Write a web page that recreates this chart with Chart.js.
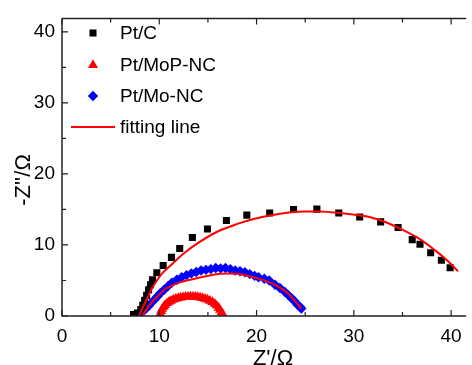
<!DOCTYPE html>
<html>
<head>
<meta charset="utf-8">
<script src="https://cdn.jsdelivr.net/npm/chart.js@4.4.1/dist/chart.umd.min.js"></script>
<style>
  html, body { margin: 0; padding: 0; background: #fff; }
  #wrap { width: 472px; height: 365px; }
</style>
</head>
<body>
<div id="wrap"><canvas id="nyquist" width="472" height="365"></canvas></div>
<script>
// Nyquist data, [Z', -Z''] in ohm
const ptC = [
  [7.35, 0.2], [7.75, 0.4], [8.1, 0.9], [8.3, 1.5], [8.5, 2.2], [8.7, 2.9], [8.9, 3.7],
  [9.1, 4.4], [9.3, 5.1], [9.75, 6.1], [10.4, 7.1], [11.25, 8.25], [12.1, 9.5],
  [13.4, 11.05], [14.95, 12.25], [16.9, 13.45], [19.0, 14.2], [21.35, 14.5], [23.8, 15.0],
  [26.2, 15.05], [28.45, 14.5], [30.6, 13.95], [32.75, 13.25], [34.55, 12.45], [36.0, 10.75],
  [36.8, 10.1], [37.9, 8.9], [39.0, 7.85], [39.9, 6.8]
];
const ptMoPNC = [
  [10.1, 0.3], [10.2, 0.7], [10.3, 1.0], [10.45, 1.3], [10.6, 1.55], [10.8, 1.8], [11.0, 2.0],
  [11.2, 2.15], [11.45, 2.3], [11.7, 2.42], [11.95, 2.52], [12.2, 2.6], [12.45, 2.65],
  [12.7, 2.7], [12.95, 2.72], [13.2, 2.73], [13.45, 2.72], [13.7, 2.7], [13.95, 2.66],
  [14.2, 2.6], [14.45, 2.52], [14.7, 2.42], [14.95, 2.3], [15.2, 2.15], [15.45, 1.95],
  [15.7, 1.72], [15.9, 1.45], [16.1, 1.15], [16.25, 0.85], [16.4, 0.5], [16.55, 0.2]
];
const ptMoNC = [
  [8.0, 0.2], [8.3, 0.6], [8.6, 1.0], [8.9, 1.4], [9.2, 1.85], [9.5, 2.3], [9.8, 2.75],
  [10.1, 3.2], [10.5, 3.7], [10.9, 4.2], [11.3, 4.7], [11.8, 5.1], [12.3, 5.45], [12.8, 5.75],
  [13.3, 6.0], [13.8, 6.2], [14.3, 6.4], [14.8, 6.5], [15.3, 6.6], [15.8, 6.75], [16.3, 6.7],
  [16.8, 6.75], [17.3, 6.6], [17.8, 6.4], [18.3, 6.3], [18.8, 6.15], [19.3, 5.9], [19.8, 5.65],
  [20.2, 5.45], [20.8, 5.25], [21.3, 5.0], [21.9, 4.4], [22.4, 3.95], [22.9, 3.4],
  [23.3, 2.9], [23.6, 2.5], [23.9, 2.1], [24.2, 1.6], [24.45, 1.3], [24.6, 1.05]
];
const fitPtC = [
  [7.9, 0], [8.3, 1.2], [8.8, 2.6], [9.25, 3.9], [9.8, 5.1], [10.3, 6.0], [11.3, 7.3],
  [12.6, 8.9], [14.0, 10.3], [16.0, 11.9], [18.1, 13.0], [19.8, 13.7], [21.5, 14.2],
  [23.1, 14.55], [24.8, 14.7], [26.5, 14.7], [28.2, 14.55], [29.9, 14.3], [31.6, 13.95],
  [33.3, 13.2], [35.0, 12.15], [36.7, 10.9], [38.4, 9.2], [39.6, 7.8], [40.7, 6.3]
];
const fitMoPNC = [
  [10.2, 0], [10.4, 1.0], [10.9, 1.75], [11.6, 2.25], [12.5, 2.55], [13.4, 2.62],
  [14.3, 2.5], [15.1, 2.15], [15.7, 1.6], [16.2, 0.9], [16.5, 0]
];
const fitMoNC = [
  [8.3, 0], [8.7, 1.0], [9.3, 2.0], [10.0, 3.0], [10.6, 3.8], [11.4, 4.35], [12.3, 4.8],
  [13.3, 5.15], [14.3, 5.47], [15.3, 5.75], [16.3, 5.94], [17.2, 6.0], [18.0, 5.95],
  [19.0, 5.7], [19.7, 5.45], [20.7, 5.05], [21.75, 4.5], [22.5, 3.9], [23.1, 3.35],
  [23.7, 2.5], [24.2, 1.7], [24.6, 1.05]
];
const tickValues = [0, 5, 10, 15, 20, 25, 30, 35, 40];
const legendLabels = ['Pt/C', 'Pt/MoP-NC', 'Pt/Mo-NC', 'fitting line'];
const xTitle = "Z'/\u03A9";
const yTitle = "-Z''/\u03A9";

const FONT = '"Liberation Sans", Arial, sans-serif';
const AXIS = '#222';

function pts(arr) {
  return arr.map(p => ({ x: p[0], y: p[1] }));
}

function markerSet(label, data, color, style, radius) {
  return {
    label: label,
    data: pts(data),
    showLine: false,
    pointStyle: style,
    pointRadius: radius,
    pointBackgroundColor: color,
    pointBorderColor: color,
    pointBorderWidth: 0,
    order: 1
  };
}

function fitSet(data) {
  return {
    label: 'fitting line',
    data: pts(data),
    showLine: true,
    borderColor: '#ff0000',
    borderWidth: 2,
    pointRadius: 0,
    tension: 0.35,
    order: 0
  };
}

// marker shapes for the legend, same look as in the plot
function drawMarker(ctx, style, x, y, r, color) {
  ctx.fillStyle = color;
  ctx.beginPath();
  if (style === 'rect') {
    const s = r * Math.SQRT1_2;
    ctx.rect(x - s, y - s, 2 * s, 2 * s);
  } else if (style === 'triangle') {
    ctx.moveTo(x, y - r);
    ctx.lineTo(x + r * 0.866, y + r * 0.5);
    ctx.lineTo(x - r * 0.866, y + r * 0.5);
    ctx.closePath();
  } else {
    ctx.moveTo(x, y - r);
    ctx.lineTo(x + r, y);
    ctx.lineTo(x, y + r);
    ctx.lineTo(x - r, y);
    ctx.closePath();
  }
  ctx.fill();
}

const framePlugin = {
  id: 'frame',
  afterDatasetsDraw(chart) {
    const ctx = chart.ctx;
    const a = chart.chartArea;
    const xs = chart.scales.x, ys = chart.scales.y;
    ctx.save();
    ctx.strokeStyle = AXIS;
    ctx.lineWidth = 1.5;
    ctx.beginPath();
    ctx.moveTo(a.left, a.top);
    ctx.lineTo(a.right, a.top);
    ctx.moveTo(a.left, a.top);
    ctx.lineTo(a.left, a.bottom);
    ctx.lineTo(a.right, a.bottom);
    ctx.stroke();

    // inward ticks
    ctx.lineWidth = 1.2;
    ctx.beginPath();
    tickValues.forEach(v => {
      const len = v % 10 === 0 ? 6 : 4;
      const px = xs.getPixelForValue(v);
      ctx.moveTo(px, a.bottom); ctx.lineTo(px, a.bottom - len);
      ctx.moveTo(px, a.top); ctx.lineTo(px, a.top + len);
      const py = ys.getPixelForValue(v);
      ctx.moveTo(a.left, py); ctx.lineTo(a.left + len, py);
    });
    ctx.stroke();

    // axis titles
    ctx.fillStyle = '#000';
    ctx.font = '22px ' + FONT;
    ctx.textAlign = 'center';
    ctx.textBaseline = 'alphabetic';
    ctx.fillText(xTitle, 273, 365);
    ctx.save();
    ctx.translate(30, 180);
    ctx.rotate(-Math.PI / 2);
    ctx.fillText(yTitle, 0, 0);
    ctx.restore();

    // legend
    const rows = [33, 65, 96, 127];
    const sets = chart.data.datasets;
    ctx.font = '19px ' + FONT;
    ctx.textAlign = 'left';
    ctx.textBaseline = 'middle';
    for (let i = 0; i < 3; i++) {
      const ds = sets[i];
      drawMarker(ctx, ds.pointStyle, 93, rows[i], ds.pointRadius, ds.pointBackgroundColor);
      ctx.fillStyle = '#000';
      ctx.fillText(legendLabels[i], 120, rows[i] + 1);
    }
    ctx.strokeStyle = '#ff0000';
    ctx.lineWidth = 2;
    ctx.beginPath();
    ctx.moveTo(71, rows[3]);
    ctx.lineTo(115, rows[3]);
    ctx.stroke();
    ctx.fillStyle = '#000';
    ctx.fillText(legendLabels[3], 120, rows[3] + 1);
    ctx.restore();
  }
};

function onlyTickValues(scale) {
  scale.ticks = tickValues.map(v => ({ value: v }));
}

new Chart(document.getElementById('nyquist').getContext('2d'), {
  type: 'scatter',
  data: {
    datasets: [
      markerSet(legendLabels[0], ptC, '#000000', 'rect', 5),
      markerSet(legendLabels[1], ptMoPNC, '#ff0000', 'triangle', 5.8),
      markerSet(legendLabels[2], ptMoNC, '#0000ff', 'rectRot', 5.2),
      fitSet(fitPtC),
      fitSet(fitMoPNC),
      fitSet(fitMoNC)
    ]
  },
  options: {
    responsive: false,
    animation: false,
    layout: { padding: { top: 13, right: 0, left: 0, bottom: 0 } },
    plugins: {
      legend: { display: false },
      tooltip: { enabled: false }
    },
    scales: {
      x: {
        type: 'linear',
        min: 0,
        max: 41.55,
        afterBuildTicks: onlyTickValues,
        afterFit: s => { s.height = 49; },
        grid: { display: false, drawTicks: false },
        border: { display: false },
        ticks: {
          padding: 9,
          color: '#000',
          font: { family: FONT, size: 19 },
          maxRotation: 0,
          autoSkip: false,
          callback: v => (v % 10 === 0 ? v : '')
        }
      },
      y: {
        type: 'linear',
        min: 0,
        max: 41.9,
        afterBuildTicks: onlyTickValues,
        afterFit: s => { s.width = 62; },
        grid: { display: false, drawTicks: false },
        border: { display: false },
        ticks: {
          padding: 7,
          color: '#000',
          font: { family: FONT, size: 19 },
          autoSkip: false,
          callback: v => (v % 10 === 0 ? v : '')
        }
      }
    }
  },
  plugins: [framePlugin]
});
</script>
</body>
</html>
